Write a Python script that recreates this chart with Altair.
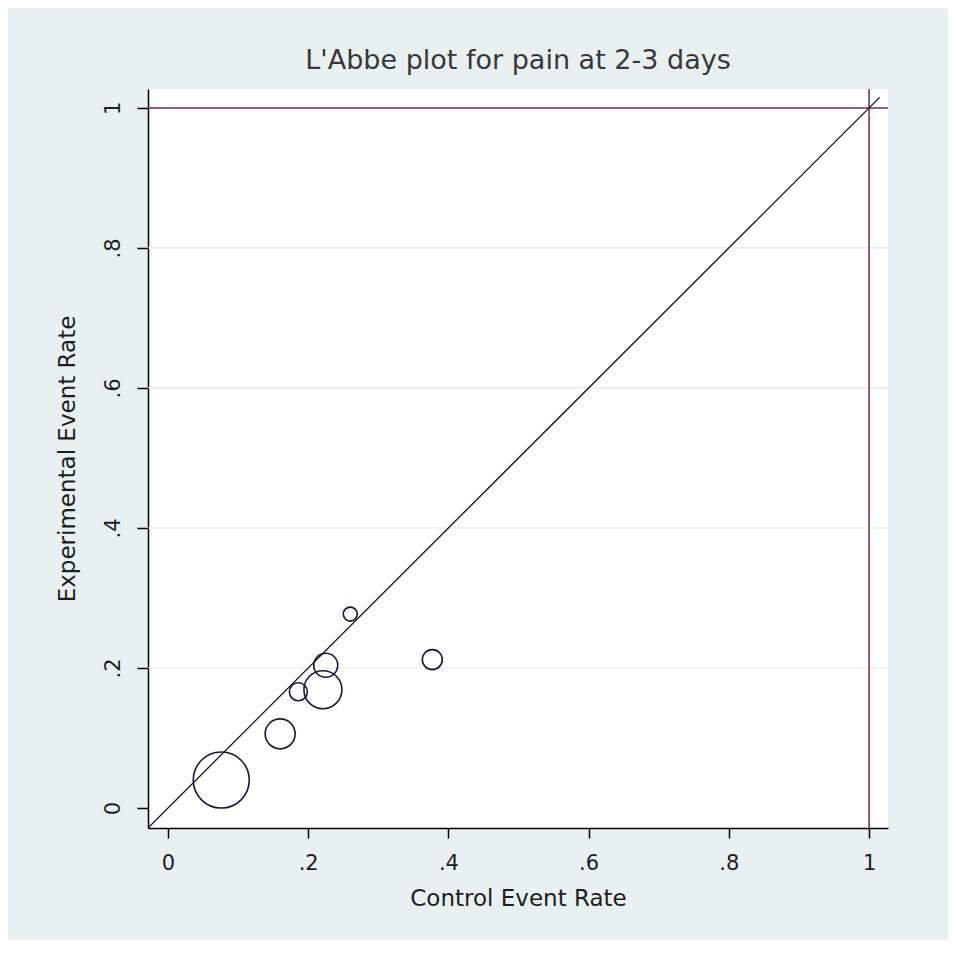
import altair as alt
import pandas as pd

# Study points: control event rate, experimental event rate, relative weight
control_rate = [0.076, 0.160, 0.186, 0.221, 0.225, 0.260, 0.377]
experimental_rate = [0.040, 0.106, 0.166, 0.169, 0.204, 0.277, 0.212]
weight = [784, 225, 81, 361, 144, 49, 100]

tick_values = [0, 0.2, 0.4, 0.6, 0.8, 1]
grid_values = [0.2, 0.4, 0.6, 0.8]
diag_ends = [-0.0285, 1.015]
axis_domain = [-0.0285, 1.027]

pts = pd.DataFrame({"cer": control_rate, "eer": experimental_rate, "w": weight})
diag = pd.DataFrame({"x": diag_ends, "y": diag_ends})
grid = pd.DataFrame({"g": grid_values})

FONT = "DejaVu Sans"
label_expr = "datum.value == 0 ? '0' : datum.value == 1 ? '1' : replace(format(datum.value, '.1f'), '0.', '.')"

xs = alt.Scale(domain=axis_domain, nice=False, zero=False)
ys = alt.Scale(domain=axis_domain, nice=False, zero=False)

x_axis = alt.Axis(values=tick_values, labelExpr=label_expr, title="Control Event Rate",
                  grid=False, tickSize=10, labelPadding=14, titlePadding=14,
                  labelFontSize=21, titleFontSize=23, labelFont=FONT, titleFont=FONT,
                  labelColor="#1e1e1e", titleColor="#1e1e1e", titleFontWeight="normal",
                  domainColor="#000000", tickColor="#000000", domainWidth=1.5, tickWidth=1.5)
y_axis = alt.Axis(values=tick_values, labelExpr=label_expr, title="Experimental Event Rate",
                  grid=False, tickSize=11, labelPadding=14, titlePadding=23, labelAngle=270,
                  labelAlign="center", labelBaseline="bottom",
                  labelFontSize=21, titleFontSize=23, labelFont=FONT, titleFont=FONT,
                  labelColor="#1e1e1e", titleColor="#1e1e1e", titleFontWeight="normal",
                  domainColor="#000000", tickColor="#000000", domainWidth=1.5, tickWidth=1.5)

grid_layer = alt.Chart(grid).mark_rule(color="#e4eaec", strokeWidth=1.2).encode(
    y=alt.Y("g:Q", scale=ys, axis=y_axis)
)

diag_layer = alt.Chart(diag).mark_line(color="#111111", strokeWidth=1.3).encode(
    x=alt.X("x:Q", scale=xs, axis=x_axis),
    y=alt.Y("y:Q", scale=ys, axis=y_axis),
)

vline = alt.Chart(pd.DataFrame({"v": [1]})).mark_rule(color="#7d2840", strokeWidth=1.5).encode(
    x=alt.X("v:Q", scale=xs, axis=x_axis)
)
hline = alt.Chart(pd.DataFrame({"v": [1]})).mark_rule(color="#7d2840", strokeWidth=1.5).encode(
    y=alt.Y("v:Q", scale=ys, axis=y_axis)
)

circles = alt.Chart(pts).mark_point(shape="circle", filled=False, color="#14183a",
                                    strokeWidth=1.6, opacity=1).encode(
    x=alt.X("cer:Q", scale=xs, axis=x_axis),
    y=alt.Y("eer:Q", scale=ys, axis=y_axis),
    size=alt.Size("w:Q", scale=alt.Scale(domain=[0, 784], range=[0, 3136], zero=True), legend=None),
)

chart = alt.layer(grid_layer, hline, vline, diag_layer, circles).properties(
    width=740,
    height=739,
    title=alt.Title("L'Abbe plot for pain at 2-3 days", fontSize=27, font=FONT,
                    fontWeight="normal", color="#383838", anchor="middle", offset=13),
    autosize=alt.AutoSizeParams(type="none"),
    padding={"left": 140, "top": 81, "right": 60, "bottom": 112},
).configure(background="#e9f0f2").configure_view(fill="#ffffff", stroke=None)

chart.save("out.html", embed_options={"renderer": "svg", "actions": False})
